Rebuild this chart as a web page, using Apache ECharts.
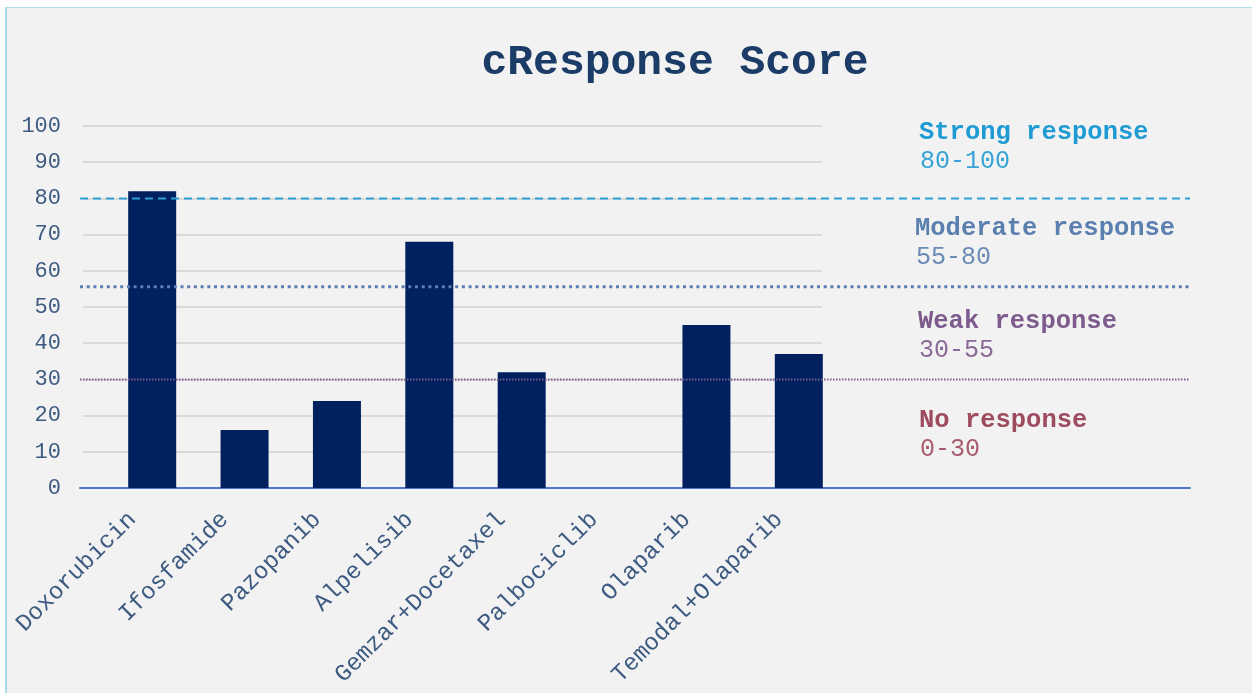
<!DOCTYPE html>
<html>
<head>
<meta charset="utf-8">
<title>cResponse Score</title>
<script src="https://cdn.jsdelivr.net/npm/echarts@6/dist/echarts.min.js"></script>
<style>
  html, body { margin: 0; padding: 0; background: #ffffff; }
  #frame { position: absolute; left: 5px; top: 7px; width: 1245px; height: 685px;
           background: #f2f2f2; border-left: 2px solid #a9d9ef; border-top: 1px solid #b5dcee; }
  #main { position: absolute; left: 0; top: 0; width: 1252px; height: 693px; }
</style>
</head>
<body>
<div id="frame"></div>
<div id="main"></div>
<script type="text/javascript">
    // drugs and their scores
    var categories = ['Doxorubicin', 'Ifosfamide', 'Pazopanib', 'Alpelisib',
                      'Gemzar+Docetaxel', 'Palbociclib', 'Olaparib', 'Temodal+Olaparib'];
    var scores = [82, 16, 24, 68, 32, 0, 45, 37];

    // response zones
    var zoneNames = ['Strong response', 'Moderate response', 'Weak response', 'No response'];
    var zoneRanges = ['80-100', '55-80', '30-55', '0-30'];
    var zoneColors = ['#1f9bd3', '#5b7fae', '#7d5b8d', '#9e4a5f'];
    var thresholds = [80, 55.6, 30];

    var yTicks = [0, 10, 20, 30, 40, 50, 60, 70, 80, 90, 100];

    var FONT = '"Liberation Mono", "Courier New", monospace';
    var TOP = 126, HEIGHT = 362;

    var myChart = echarts.init(document.getElementById('main'));

    // labels on the right side
    var zoneY = [133, 229, 322, 421];
    var zoneX = [919, 915, 918, 919];
    var graphics = [];
    zoneNames.forEach(function (name, i) {
        graphics.push({
            type: 'text', left: zoneX[i], top: zoneY[i] - 13,
            style: { text: name, fill: zoneColors[i], font: 'bold 25.5px ' + FONT }
        });
        graphics.push({
            type: 'text', left: zoneX[i] + 1, top: zoneY[i] + 16,
            style: { text: zoneRanges[i], fill: zoneColors[i], opacity: 0.9, font: '25px ' + FONT }
        });
    });

    var lineStyles = [
        { color: '#2e9fd6', width: 2, type: [8, 5] },
        { color: '#5b7fb4', width: 3, type: [3, 3.7] },
        { color: '#7d5b8d', width: 2, type: [1.5, 1.5] }
    ];

    myChart.setOption({
        backgroundColor: 'transparent',
        animation: false,
        title: {
            text: 'cResponse Score',
            left: 670, top: 37, textAlign: 'center',
            textStyle: { fontFamily: FONT, fontWeight: 'bold', fontSize: 43, color: '#1b3c66' }
        },
        graphic: graphics,
        grid: [
            { left: 106, top: TOP, width: 739, height: HEIGHT },   // bars
            { left: 83, top: TOP, width: 739, height: HEIGHT },    // gridlines + y labels
            { left: 80, top: TOP, width: 1110, height: HEIGHT }    // base line + zone lines
        ],
        xAxis: [
            {
                type: 'category', gridIndex: 0, data: categories,
                axisLine: { show: false }, axisTick: { show: false },
                axisLabel: {
                    rotate: 45, interval: 0, margin: 8, padding: [0, 28, 0, 0],
                    fontFamily: FONT, fontSize: 24, color: '#3d5a80'
                }
            },
            { type: 'category', gridIndex: 1, show: false, data: categories },
            {
                type: 'category', gridIndex: 2, data: ['a', 'b'], boundaryGap: false,
                axisLine: { show: true, lineStyle: { color: '#4f78c8', width: 2 } },
                axisTick: { show: false }, axisLabel: { show: false }
            }
        ],
        yAxis: [
            { type: 'value', gridIndex: 0, min: 0, max: 100, interval: 10, show: false },
            {
                type: 'value', gridIndex: 1, min: 0, max: 100, interval: 10,
                axisLine: { show: false }, axisTick: { show: false },
                splitLine: { lineStyle: { color: '#d9d9d9', width: 2 } },
                axisLabel: {
                    margin: 22, fontFamily: FONT, fontSize: 22, color: '#3d5a80',
                    formatter: function (v) { return yTicks.indexOf(v) >= 0 ? String(v) : ''; }
                }
            },
            { type: 'value', gridIndex: 2, min: 0, max: 100, interval: 10, show: false }
        ],
        series: [{
            name: 'cResponse Score',
            type: 'bar',
            xAxisIndex: 0, yAxisIndex: 0,
            barWidth: 48,
            itemStyle: { color: '#002060' },
            data: scores
        }].concat(thresholds.map(function (t, i) {
            return {
                type: 'line', xAxisIndex: 2, yAxisIndex: 2,
                symbol: 'none', silent: true,
                lineStyle: lineStyles[i],
                data: [t, t]
            };
        }))
    });
</script>
</body>
</html>
